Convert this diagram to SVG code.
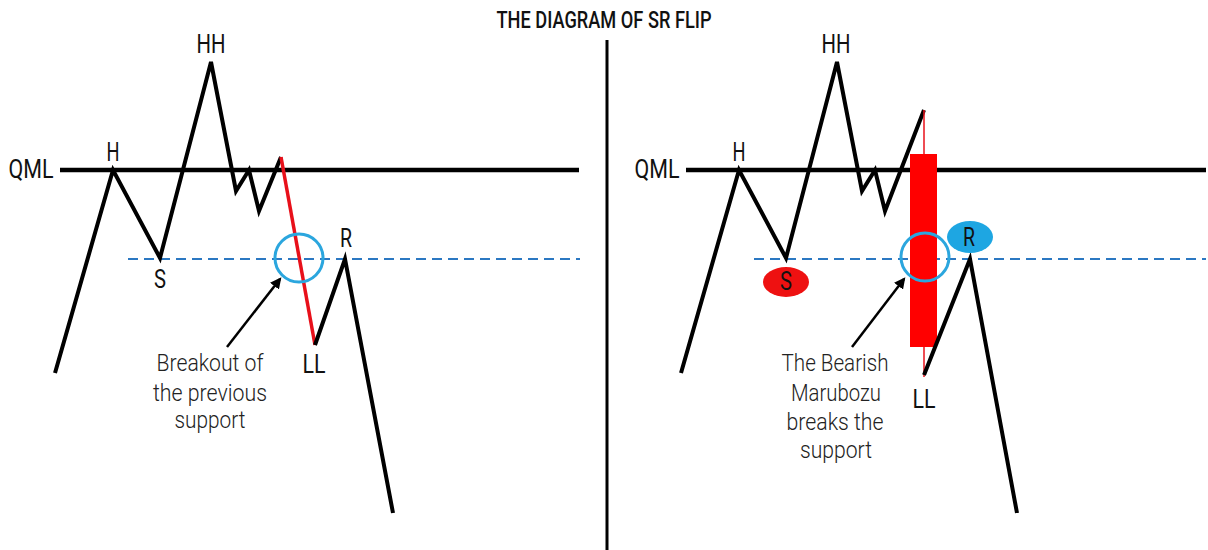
<svg xmlns="http://www.w3.org/2000/svg" width="1208" height="550" viewBox="0 0 1208 550">
<defs>
<style>
.lbl{font-family:Roboto,"Liberation Sans",sans-serif;font-size:25px;fill:#111;text-anchor:middle}
.ann{font-family:Roboto,"Liberation Sans",sans-serif;font-size:23px;font-weight:300;fill:#222;text-anchor:middle}
.price{fill:none;stroke:#000;stroke-width:4;stroke-linejoin:miter;stroke-linecap:butt}
.qml{stroke:#000;stroke-width:4.5}
.dash{stroke:#2b78c2;stroke-width:2;stroke-dasharray:10 6}
.ring{fill:none;stroke:#2ba6de;stroke-width:3}
.arrow{stroke:#000;stroke-width:2.5;marker-end:url(#ah)}
</style>
<marker id="ah" viewBox="0 0 10 10" refX="8" refY="5" markerWidth="4.5" markerHeight="4.5" orient="auto" markerUnits="strokeWidth">
<path d="M0,0 L10,5 L0,10 z" fill="#000"/>
</marker>
</defs>
<rect width="1208" height="550" fill="#fff"/>
<text id="title" x="604" y="28" font-family="Roboto,'Liberation Sans',sans-serif" font-size="23" font-weight="500" text-anchor="middle" textLength="215" lengthAdjust="spacingAndGlyphs" fill="#111">THE DIAGRAM OF SR FLIP</text>
<line id="divider" x1="607" y1="40" x2="607" y2="550" stroke="#000" stroke-width="3"/>

<g id="left-panel">
<text class="lbl" x="31" y="178" textLength="45" lengthAdjust="spacingAndGlyphs">QML</text>
<line class="qml" x1="60" y1="170" x2="579" y2="170"/>
<line class="dash" x1="128" y1="259" x2="580" y2="259"/>
<polyline class="price" points="55,373 113,170 160,258 211,62 236,191 249,170 259,211 281,157"/>
<line x1="281" y1="157" x2="315" y2="345" stroke="#e8101a" stroke-width="3.5"/>
<polyline class="price" points="315,345 345,259 393,513"/>
<circle class="ring" cx="299" cy="258" r="24"/>
<text class="lbl" x="113" y="161" textLength="13" lengthAdjust="spacingAndGlyphs">H</text>
<text class="lbl" x="211" y="53" textLength="29" lengthAdjust="spacingAndGlyphs">HH</text>
<text class="lbl" x="160" y="288" textLength="12" lengthAdjust="spacingAndGlyphs">S</text>
<text class="lbl" x="346" y="247" textLength="12" lengthAdjust="spacingAndGlyphs">R</text>
<text class="lbl" x="314" y="373" textLength="23" lengthAdjust="spacingAndGlyphs">LL</text>
<line class="arrow" x1="227" y1="347" x2="280" y2="279"/>
<text class="ann" x="210" y="371" textLength="107" lengthAdjust="spacingAndGlyphs">Breakout of</text>
<text class="ann" x="210" y="401" textLength="114" lengthAdjust="spacingAndGlyphs">the previous</text>
<text class="ann" x="210" y="428" textLength="71" lengthAdjust="spacingAndGlyphs">support</text>
</g>

<g id="right-panel">
<text class="lbl" x="657" y="178" textLength="45" lengthAdjust="spacingAndGlyphs">QML</text>
<line class="qml" x1="686" y1="170" x2="1206" y2="170"/>
<line class="dash" x1="754" y1="259" x2="1206" y2="259"/>
<polyline class="price" points="681,373 739,170 786,258 837,62 862,191 875,170 885,211 924,110"/>
<line x1="924" y1="110" x2="924" y2="377" stroke="#e8101a" stroke-width="1.5"/>
<rect x="910" y="154" width="27" height="193" fill="#ff0000"/>
<polyline class="price" points="924,375 970,259 1017,513"/>
<circle class="ring" cx="925" cy="257" r="24"/>
<ellipse cx="786" cy="282" rx="23" ry="15" fill="#ee1111"/>
<ellipse cx="970" cy="237" rx="23" ry="16" fill="#1ea6e2"/>
<text class="lbl" x="739" y="161" textLength="13" lengthAdjust="spacingAndGlyphs">H</text>
<text class="lbl" x="836" y="53" textLength="29" lengthAdjust="spacingAndGlyphs">HH</text>
<text class="lbl" x="786" y="290" textLength="12" lengthAdjust="spacingAndGlyphs">S</text>
<text class="lbl" x="969" y="246" textLength="12" lengthAdjust="spacingAndGlyphs">R</text>
<text class="lbl" x="924" y="408" textLength="23" lengthAdjust="spacingAndGlyphs">LL</text>
<line class="arrow" x1="852" y1="347" x2="904" y2="279"/>
<text class="ann" x="835" y="371" textLength="107" lengthAdjust="spacingAndGlyphs">The Bearish</text>
<text class="ann" x="836" y="401" textLength="90" lengthAdjust="spacingAndGlyphs">Marubozu</text>
<text class="ann" x="835" y="430" textLength="97" lengthAdjust="spacingAndGlyphs">breaks the</text>
<text class="ann" x="836" y="458" textLength="72" lengthAdjust="spacingAndGlyphs">support</text>
</g>
</svg>
